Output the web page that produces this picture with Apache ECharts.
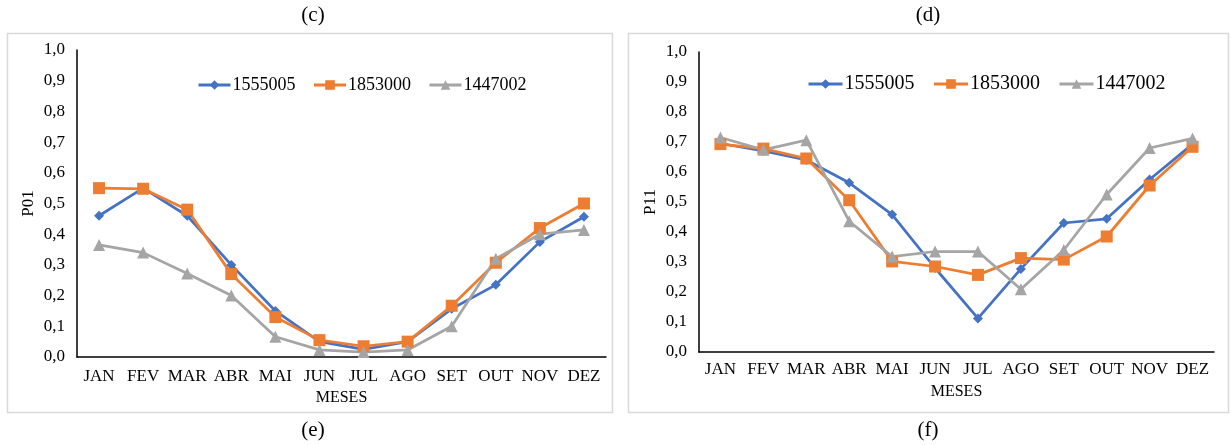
<!DOCTYPE html>
<html>
<head>
<meta charset="utf-8">
<script src="https://cdn.jsdelivr.net/npm/echarts@6/dist/echarts.min.js"></script>
<style>html,body{margin:0;padding:0;background:#fff;}#c{width:1231px;height:445px;}</style>
</head>
<body>
<div id="c"></div>
<script>
const months = ['JAN','FEV','MAR','ABR','MAI','JUN','JUL','AGO','SET','OUT','NOV','DEZ'];
const seriesNames = ['1555005','1853000','1447002'];
// Panel (c)/(e): P01
const p01_1555005 = [0.46,0.55,0.46,0.30,0.15,0.05,0.025,0.05,0.157,0.235,0.375,0.457];
const p01_1853000 = [0.55,0.548,0.48,0.27,0.13,0.055,0.035,0.05,0.167,0.307,0.42,0.50];
const p01_1447002 = [0.365,0.34,0.272,0.20,0.066,0.023,0.016,0.023,0.10,0.32,0.40,0.414];
// Panel (d)/(f): P11
const p11_1555005 = [0.695,0.67,0.64,0.564,0.458,0.28,0.112,0.277,0.43,0.444,0.575,0.693];
const p11_1853000 = [0.693,0.678,0.645,0.506,0.302,0.285,0.257,0.313,0.308,0.385,0.555,0.684];
const p11_1447002 = [0.715,0.674,0.706,0.436,0.318,0.335,0.335,0.209,0.34,0.525,0.68,0.712];
const yTicks = ['0,0','0,1','0,2','0,3','0,4','0,5','0,6','0,7','0,8','0,9','1,0'];

const colors = ['#4472C4','#ED7D31','#A5A5A5'];
const symbols = ['diamond','rect','triangle'];
const symSizes = [10,12,12];
const FONT = '"Liberation Serif", "Times New Roman", serif';

function mkSeries(name, data, idx, axisIdx){
  return {
    name: name, type: 'line', data: data,
    xAxisIndex: axisIdx, yAxisIndex: axisIdx,
    symbol: symbols[idx], symbolSize: symSizes[idx],
    lineStyle: {color: colors[idx], width: 2.75},
    itemStyle: {color: colors[idx]},
    animation: false
  };
}
function mkY(gi, name, gap){
  return {
    type: 'value', gridIndex: gi, min: 0, max: 1, interval: 0.1,
    name: name, nameLocation: 'middle', nameRotate: 90, nameGap: gap,
    nameTextStyle: {fontFamily: FONT, fontSize: 17, color: '#000'},
    axisLine: {show: true, lineStyle: {color: '#000', width: 1.5}},
    axisTick: {show: false},
    splitLine: {show: false},
    axisLabel: {fontFamily: FONT, fontSize: 17, color: '#000', margin: 12,
      formatter: v => yTicks[Math.round(v*10)]}
  };
}
function mkX(gi, margin){
  return {
    type: 'category', gridIndex: gi, data: months, boundaryGap: true,
    name: 'MESES', nameLocation: 'middle', nameGap: 32,
    nameTextStyle: {fontFamily: FONT, fontSize: 16, color: '#000'},
    axisLine: {show: true, lineStyle: {color: '#000', width: 1.5}},
    axisTick: {show: false},
    axisLabel: {fontFamily: FONT, fontSize: 17, color: '#000', margin: margin, interval: 0, hideOverlap: false}
  };
}
const chart = echarts.init(document.getElementById('c'), null, {renderer: 'canvas'});
const letterStyle = {fontFamily: FONT, fontSize: 21, color: '#000', fontWeight: 'normal'};
chart.setOption({
  backgroundColor: '#fff',
  animation: false,
  title: [
    {text: '(c)', left: 313, top: 5, textAlign: 'center', textStyle: letterStyle, padding: 0},
    {text: '(d)', left: 928, top: 5, textAlign: 'center', textStyle: letterStyle, padding: 0},
    {text: '(e)', left: 313, top: 420, textAlign: 'center', textStyle: letterStyle, padding: 0},
    {text: '(f)', left: 928, top: 420, textAlign: 'center', textStyle: letterStyle, padding: 0}
  ],
  graphic: [
    {type: 'rect', shape: {x: 7.5, y: 33.5, width: 605, height: 379}, style: {fill: 'none', stroke: '#d9d9d9', lineWidth: 1.5}, z: -1},
    {type: 'rect', shape: {x: 628.5, y: 33.5, width: 600, height: 379}, style: {fill: 'none', stroke: '#d9d9d9', lineWidth: 1.5}, z: -1}
  ],
  legend: [
    {data: seriesNames, left: 197, top: 76, itemWidth: 32, itemHeight: 12, itemGap: 17, padding: 0,
     lineStyle: {width: 3},
     textStyle: {fontFamily: FONT, fontSize: 18, color: '#000', padding: [0,0,0,-3]}},
    {data: seriesNames.map(n => ({name: n})), left: 807, top: 74, itemWidth: 34, itemHeight: 12, itemGap: 18, padding: 0,
     lineStyle: {width: 3},
     textStyle: {fontFamily: FONT, fontSize: 20, color: '#000', padding: [0,0,0,-3]}}
  ],
  grid: [
    {left: 77, top: 50, width: 529, height: 307},
    {left: 699, top: 52, width: 515, height: 300}
  ],
  xAxis: [mkX(0, 11), mkX(1, 9)],
  yAxis: [mkY(0, 'P01', 40), mkY(1, 'P11', 40)],
  series: [
    mkSeries(seriesNames[0], p01_1555005, 0, 0),
    mkSeries(seriesNames[1], p01_1853000, 1, 0),
    mkSeries(seriesNames[2], p01_1447002, 2, 0),
    mkSeries(seriesNames[0], p11_1555005, 0, 1),
    mkSeries(seriesNames[1], p11_1853000, 1, 1),
    mkSeries(seriesNames[2], p11_1447002, 2, 1)
  ]
});
</script>
</body>
</html>
